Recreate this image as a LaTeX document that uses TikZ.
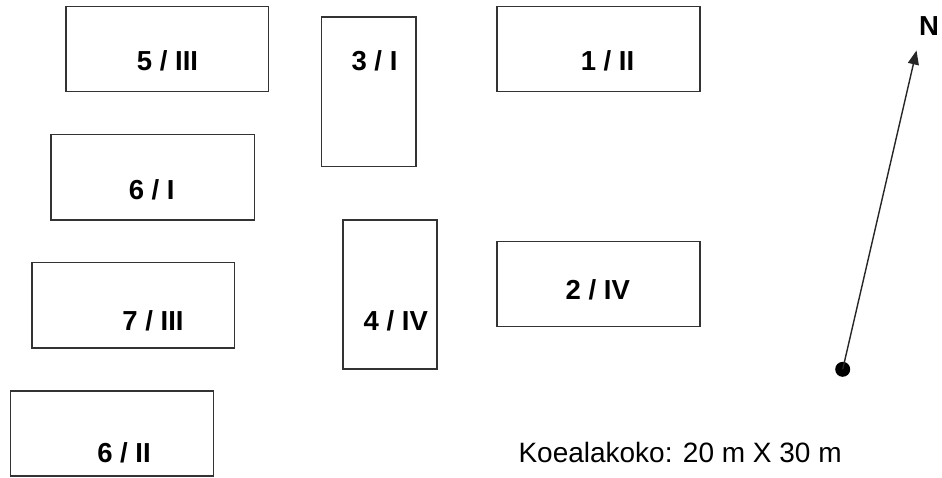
\documentclass[tikz,border=0pt]{standalone}
\usepackage{fontspec}
\setmainfont{Liberation Sans}
\usetikzlibrary{arrows.meta}
\tikzset{
  plot/.style={draw=black!80, line width=1.7pt, fill=white, inner sep=0pt},
  plotlabel/.style={font=\fontsize{27.5}{30}\selectfont\bfseries, inner sep=0pt, anchor=base},
  northarrow/.style={draw=black!85, line width=1.4pt, -{Triangle[length=14pt,width=11pt]}},
}
\newcommand{\plotbox}[5]{% name, x0, y0, x1, y1 (pixel grid, y down)
  \node[plot, minimum width={#4-#2}, minimum height={#5-#3}] (#1) at ({(#2+#4)/2},{(#3+#5)/2}) {};
}
\begin{document}
\begin{tikzpicture}[x=1pt,y=-1pt]
  \useasboundingbox[fill=white] (0,0) rectangle (942,477);

  % sample plots
  \plotbox{p5}{66}{6.5}{268.5}{91.5}
  \plotbox{p3}{321.5}{17}{416}{166.5}
  \plotbox{p1}{497}{6.5}{700}{91.5}
  \plotbox{p6a}{51}{134.5}{254.5}{220}
  \plotbox{p4}{343}{220}{437}{369}
  \plotbox{p2}{497}{241.5}{700}{326.5}
  \plotbox{p7}{32}{262.5}{234.5}{348}
  \plotbox{p6b}{10.5}{391}{213.5}{476}

  % plot labels
  \node[plotlabel] (l5)  at (167.5,70)   {5 / III};
  \node[plotlabel] (l3)  at (374.5,70)   {3 / I};
  \node[plotlabel] (l1)  at (607.5,70)   {1 / II};
  \node[plotlabel] (l6a) at (151.7,199.3) {6 / I};
  \node[plotlabel] (l7)  at (153,330.7)  {7 / III};
  \node[plotlabel] (l4)  at (395.8,330.7) {4 / IV};
  \node[plotlabel] (l2)  at (597.8,299.3) {2 / IV};
  \node[plotlabel] (l6b) at (124,462.3)  {6 / II};

  % north arrow
  \coordinate (base) at (842.7,369.3);
  \coordinate (tip) at (916.5,50.5);
  \fill[black] (base) circle (7.5pt);
  \draw[northarrow] (base) -- (tip);
  \node[plotlabel] (north) at (929,35) {N};

  % plot size note
  \node[font=\fontsize{28}{30}\selectfont, inner sep=0pt, anchor=base west] (size) at (518.3,462.7) {Koealakoko: 20 m X 30 m};
\end{tikzpicture}
\end{document}
